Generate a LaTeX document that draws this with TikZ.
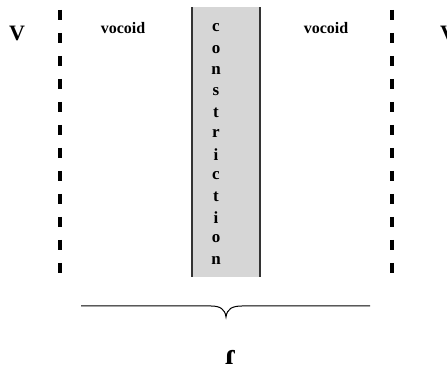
\documentclass[tikz,border=0pt]{standalone}
\usepackage{fontspec}
\setmainfont{Liberation Serif}
\usetikzlibrary{calc,positioning}
\tikzset{
    vowel/.style={font=\fontsize{22}{24}\selectfont\bfseries,inner sep=0pt},
    vlabel/.style={font=\fontsize{16}{18}\selectfont\bfseries,inner sep=0pt},
    letra/.style={font=\fontsize{17}{18}\selectfont\bfseries,inner sep=0pt},
    frontera/.style={draw,line width=3.5pt,dash pattern=on 10pt off 13pt},
    bloque/.style={fill=black!16,draw=none},
    borde/.style={draw=black!80,line width=1.6pt},
    llave/.style={draw,line width=1pt},
}
\begin{document}
\begin{tikzpicture}[x=1pt,y=1pt]
\useasboundingbox (0,0) rectangle (447,371);
\fill[white] (0,0) rectangle (447,371);

% bloque de constriccion
\coordinate (cSW) at (192,94);
\coordinate (cNE) at (260,364);
\path[bloque] (cSW) rectangle (cNE);
\draw[borde] (cSW) -- (cSW|-cNE);
\draw[borde] (cNE|-cSW) -- (cNE);
\foreach \l [count=\i] in {c,o,n,s,t,r,i,c,t,i,o,n}
    \node[letra] (l\i) at (216,{343-(\i-1)*21.1}) {\l};

% fronteras
\coordinate (fi1) at (60,361);
\coordinate (fi2) at (60,96);
\coordinate (fd1) at (392,361);
\coordinate (fd2) at (392,96);
\draw[frontera] (fi1) -- (fi2);
\draw[frontera] (fd1) -- (fd2);

\node[vowel] (v1) at (17,338) {V};
\node[vowel] (v2) at (448,338) {V};
\node[vlabel] (voc1) at (123,343) {vocoid};
\node[vlabel] (voc2) at (326,343) {vocoid};

% llave
\coordinate (b1) at (81,65);
\coordinate (b2) at (370,65);
\coordinate (bt) at (226,54);
\draw[llave] (b1) -- (211,65) .. controls (220,65) and (225,62) .. (bt)
    .. controls (227,62) and (232,65) .. (242,65) -- (b2);
\node[font=\fontsize{30}{32}\selectfont\bfseries,inner sep=0pt,anchor=base] (tap) at (231,6) {ɾ};
\end{tikzpicture}
\end{document}
